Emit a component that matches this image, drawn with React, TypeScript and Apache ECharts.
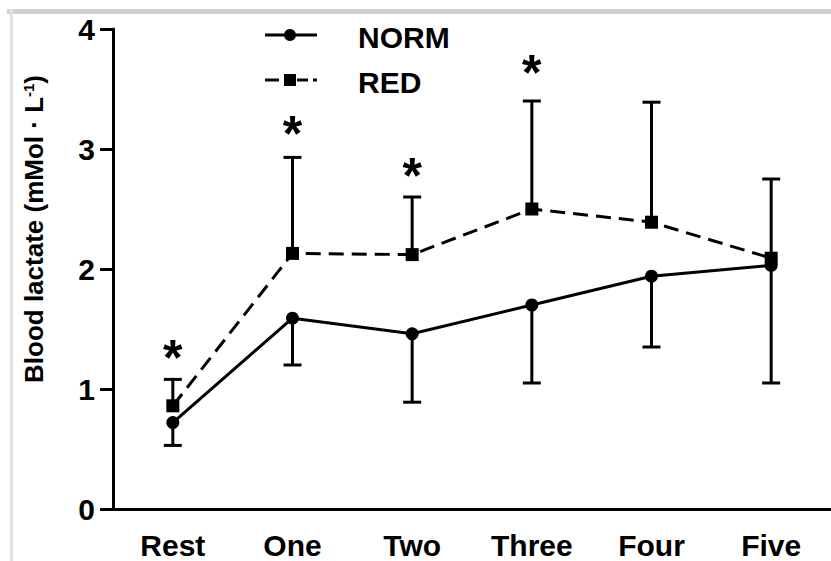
import React, { useEffect, useRef } from "react";
import * as echarts from "echarts";

const categories = ["Rest", "One", "Two", "Three", "Four", "Five"];
const normMean = [0.72, 1.59, 1.46, 1.7, 1.94, 2.03];
const normLower = [0.53, 1.2, 0.89, 1.05, 1.35, 1.05];
const redMean = [0.86, 2.13, 2.12, 2.5, 2.39, 2.09];
const redUpper = [1.08, 2.93, 2.6, 3.4, 3.39, 2.75];
const asteriskY = [1.33, 3.2, 2.85, 3.71, null, null];
const yTicks = [0, 1, 2, 3, 4];

const FONT = '"Liberation Sans", Arial, Helvetica, sans-serif';

export default function App() {
  const ref = useRef<HTMLDivElement>(null);
  useEffect(() => {
    if (!ref.current) return;
    const chart = echarts.init(ref.current, null, { renderer: "svg" });

    const errorRender = (params: any, api: any) => {
      const x = api.value(0);
      const p1 = api.coord([x, api.value(1)]);
      const p2 = api.coord([x, api.value(2)]);
      const hw = 9;
      return {
        type: "group",
        children: [
          { type: "line", shape: { x1: p1[0], y1: p1[1], x2: p2[0], y2: p2[1] }, style: { stroke: "#000", lineWidth: 3 } },
          { type: "line", shape: { x1: p2[0] - hw, y1: p2[1], x2: p2[0] + hw, y2: p2[1] }, style: { stroke: "#000", lineWidth: 3 } },
        ],
      };
    };

    const starRender = (params: any, api: any) => {
      const p = api.coord([api.value(0), api.value(1)]);
      return {
        type: "text",
        x: p[0],
        y: p[1] + 9,
        style: { text: "*", fontSize: 50, fontWeight: "bold", fontFamily: FONT, fill: "#000", align: "center", verticalAlign: "middle" },
      };
    };

    const option: any = {
      animation: false,
      backgroundColor: "#fff",
      grid: { left: 113, top: 29, width: 720, height: 480 },
      xAxis: {
        type: "category",
        data: categories,
        boundaryGap: true,
        axisLine: { lineStyle: { color: "#000", width: 3 } },
        axisTick: { alignWithLabel: true, length: 14, lineStyle: { color: "#000", width: 3 } },
        axisLabel: { color: "#000", fontSize: 30, fontWeight: "bold", fontFamily: FONT, margin: 21, lineHeight: 30 },
        splitLine: { show: false },
      },
      yAxis: {
        type: "value",
        min: yTicks[0],
        max: yTicks[yTicks.length - 1],
        interval: 1,
        axisLine: { show: true, lineStyle: { color: "#000", width: 3 } },
        axisTick: { show: true, length: 13, lineStyle: { color: "#000", width: 3 } },
        axisLabel: { color: "#000", fontSize: 30, fontWeight: "bold", fontFamily: FONT, margin: 18 },
        splitLine: { show: false },
      },
      graphic: [
        { type: "rect", shape: { x: 7, y: 9, width: 830, height: 5 }, style: { fill: "#cfcfcf" }, silent: true },
        { type: "rect", shape: { x: 10, y: 9, width: 3, height: 560 }, style: { fill: "#e2e2e2" }, silent: true },
        {
          type: "text",
          x: 34,
          y: 229,
          rotation: Math.PI / 2,
          style: {
            text: "Blood lactate (mMol · L{sup|-1})",
            fontSize: 26,
            fontWeight: "bold",
            fontFamily: FONT,
            fill: "#000",
            align: "center",
            verticalAlign: "middle",
            rich: { sup: { fontSize: 15, fontWeight: "bold", fontFamily: FONT, fill: "#000", verticalAlign: "top", padding: [0, 0, 10, 0] } },
          },
        },
        // legend NORM
        { type: "line", shape: { x1: 265, y1: 35, x2: 317, y2: 35 }, style: { stroke: "#000", lineWidth: 3 } },
        { type: "circle", shape: { cx: 290, cy: 35, r: 6 }, style: { fill: "#000" } },
        { type: "text", x: 358, y: 37, style: { text: "NORM", fontSize: 30, fontWeight: "bold", fontFamily: FONT, fill: "#000", verticalAlign: "middle" } },
        // legend RED
        { type: "line", shape: { x1: 265, y1: 80, x2: 279, y2: 80 }, style: { stroke: "#000", lineWidth: 3 } },
        { type: "line", shape: { x1: 297, y1: 80, x2: 308, y2: 80 }, style: { stroke: "#000", lineWidth: 3 } },
        { type: "line", shape: { x1: 313, y1: 80, x2: 317, y2: 80 }, style: { stroke: "#000", lineWidth: 3 } },
        { type: "rect", shape: { x: 284, y: 74, width: 12, height: 12 }, style: { fill: "#000" } },
        { type: "text", x: 358, y: 82, style: { text: "RED", fontSize: 30, fontWeight: "bold", fontFamily: FONT, fill: "#000", verticalAlign: "middle" } },
      ],
      series: [
        {
          type: "custom",
          name: "NORM err",
          renderItem: errorRender,
          data: categories.map((_, i) => [i, normMean[i], normLower[i]]),
          z: 1,
          silent: true,
        },
        {
          type: "custom",
          name: "RED err",
          renderItem: errorRender,
          data: categories.map((_, i) => [i, redMean[i], redUpper[i]]),
          z: 1,
          silent: true,
        },
        {
          type: "line",
          name: "NORM",
          data: normMean,
          symbol: "circle",
          symbolSize: 13,
          itemStyle: { color: "#000" },
          lineStyle: { color: "#000", width: 3 },
          z: 3,
        },
        {
          type: "line",
          name: "RED",
          data: redMean,
          symbol: "rect",
          symbolSize: 13,
          itemStyle: { color: "#000" },
          lineStyle: { color: "#000", width: 3, type: [15, 8] },
          z: 3,
        },
        {
          type: "custom",
          name: "sig",
          renderItem: starRender,
          data: categories.map((_, i) => [i, asteriskY[i]]).filter((d) => d[1] !== null),
          z: 4,
          silent: true,
        },
      ],
    };
    chart.setOption(option);
    return () => chart.dispose();
  }, []);
  return <div ref={ref} style={{ position: "fixed", left: 0, top: 0, width: 831, height: 561, background: "#fff" }} />;
}
